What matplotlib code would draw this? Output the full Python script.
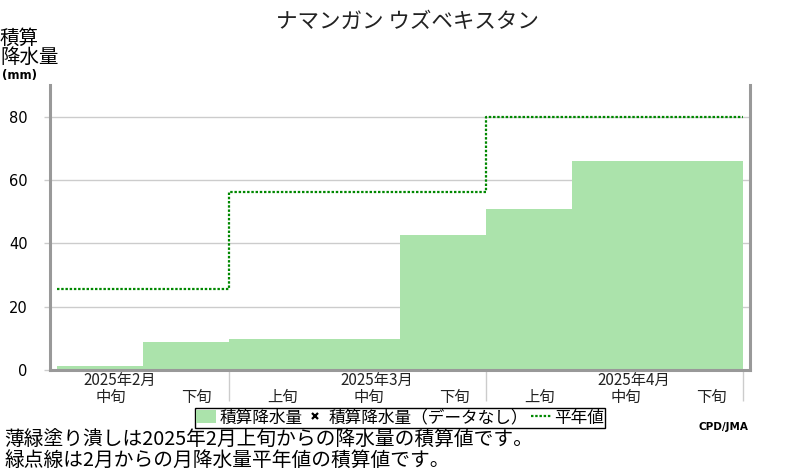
import matplotlib
matplotlib.use("Agg")
import matplotlib.pyplot as plt
import matplotlib.transforms as mtransforms
from matplotlib.patches import Patch
from matplotlib.lines import Line2D
import numpy as np

plt.rcParams['font.family'] = ['Noto Sans CJK JP', 'DejaVu Sans']

# ---- data ----
title = "ナマンガン ウズベキスタン"
dekad_labels = ["中旬", "下旬", "上旬", "中旬", "下旬", "上旬", "中旬", "下旬"]
month_labels = ["2025年2月", "2025年3月", "2025年4月"]
month_dekads = [2, 3, 3]            # number of dekads shown per month
month_label_dekad = [0, 3, 6]       # dekad index under which month label sits
cum_precip = [1.2, 9.0, 9.7, 9.7, 42.5, 50.7, 65.9, 65.9]   # mm, cumulative
normal_cum = [25.5, 56.3, 80.0]     # mm, cumulative monthly normal
yticks = [0, 20, 40, 60, 80]
ylabel = "積算\n降水量"
yunit = "(mm)"
legend_labels = ["積算降水量", "積算降水量（データなし）", "平年値"]
note1 = "薄緑塗り潰しは2025年2月上旬からの降水量の積算値です。"
note2 = "緑点線は2月からの月降水量平年値の積算値です。"

bar_color = "#abe3ab"
line_color = "#008800"
axis_gray = "#999999"
grid_gray = "#cccccc"

fig = plt.figure(figsize=(8, 4.7), dpi=100)
ax = fig.add_axes([50/800, 1-370/470, 700/800, 285/470])

x = np.arange(len(cum_precip))
ax.bar(x, cum_precip, width=1.0, align='edge', color=bar_color, linewidth=0, zorder=2)

bounds = np.concatenate([[0], np.cumsum(month_dekads)])
step_x = list(bounds)
step_y = list(normal_cum) + [normal_cum[-1]]
ax.step(step_x, step_y, where='post', color=line_color, lw=1.6,
        linestyle=(0, (1.1, 0.8)), zorder=3)

ax.set_xlim(-0.082, len(cum_precip) + 0.08)
ax.set_ylim(0, 90)

for s in ['left', 'right', 'bottom']:
    ax.spines[s].set_color(axis_gray)
    ax.spines[s].set_linewidth(2.2)
ax.spines['top'].set_visible(False)

ax.set_yticks(yticks)
ax.set_yticklabels([str(v) for v in yticks], fontsize=10.5, family=['DejaVu Sans'])
ax.tick_params(axis='y', length=4, width=1, color=grid_gray, pad=12)
ax.yaxis.grid(True, color=grid_gray, lw=1, zorder=0)
ax.set_axisbelow(True)

# x ticks: month boundaries as minor tick lines, labels as text
ax.set_xticks(bounds[1:], minor=True)
ax.set_xticks([])
ax.tick_params(axis='x', which='minor', length=22, width=1, color=grid_gray, direction='out')

trans = mtransforms.blended_transform_factory(ax.transData, ax.transAxes)
label_off = 0.13
for i, lab in enumerate(dekad_labels):
    ax.text(i + 0.5 + label_off, -27/285, lab, transform=trans, ha='center', va='center',
            fontsize=11, color='#222222')
for m, lab in enumerate(month_labels):
    ax.text(month_label_dekad[m] + 0.5 + label_off + 0.1, -10/285, lab, transform=trans,
            ha='center', va='center', fontsize=11, color='#222222')

# title and y label
fig.text(407/800, 1-22/470, title, ha='center', va='center', fontsize=15.5, color='#222222')
fig.text(0/800, 1-48/470, ylabel, ha='left', va='center', fontsize=14, linespacing=0.92)
fig.text(2/800, 1-75/470, yunit, ha='left', va='center', fontsize=8.5, fontweight='bold',
         family=['DejaVu Sans'])

# legend
handles = [Patch(facecolor=bar_color, edgecolor='none'),
           Line2D([], [], marker='x', color='black', linestyle='none', markersize=5, mew=1.6),
           Line2D([], [], color=line_color, lw=1.6, linestyle=(0, (1.1, 0.8)))]
leg = fig.legend(handles, legend_labels, loc='center', bbox_to_anchor=(400/800, 1-418/470),
                 ncol=3, fontsize=12, frameon=True, fancybox=False, edgecolor='black',
                 borderpad=0.1, handlelength=1.2, handletextpad=0.2, columnspacing=0.15,
                 handleheight=0.8, borderaxespad=0)
leg.get_frame().set_linewidth(1.0)
leg.get_frame().set_alpha(1)

fig.text(748/800, 1-427/470, "CPD/JMA", ha='right', va='center', fontsize=7.5,
         fontweight='bold', family=['DejaVu Sans'])
fig.text(4/800, 1-440/470, note1, ha='left', va='center', fontsize=14.2)
fig.text(4/800, 1-460/470, note2, ha='left', va='center', fontsize=14.2)

fig.savefig("out.png", dpi=100)
